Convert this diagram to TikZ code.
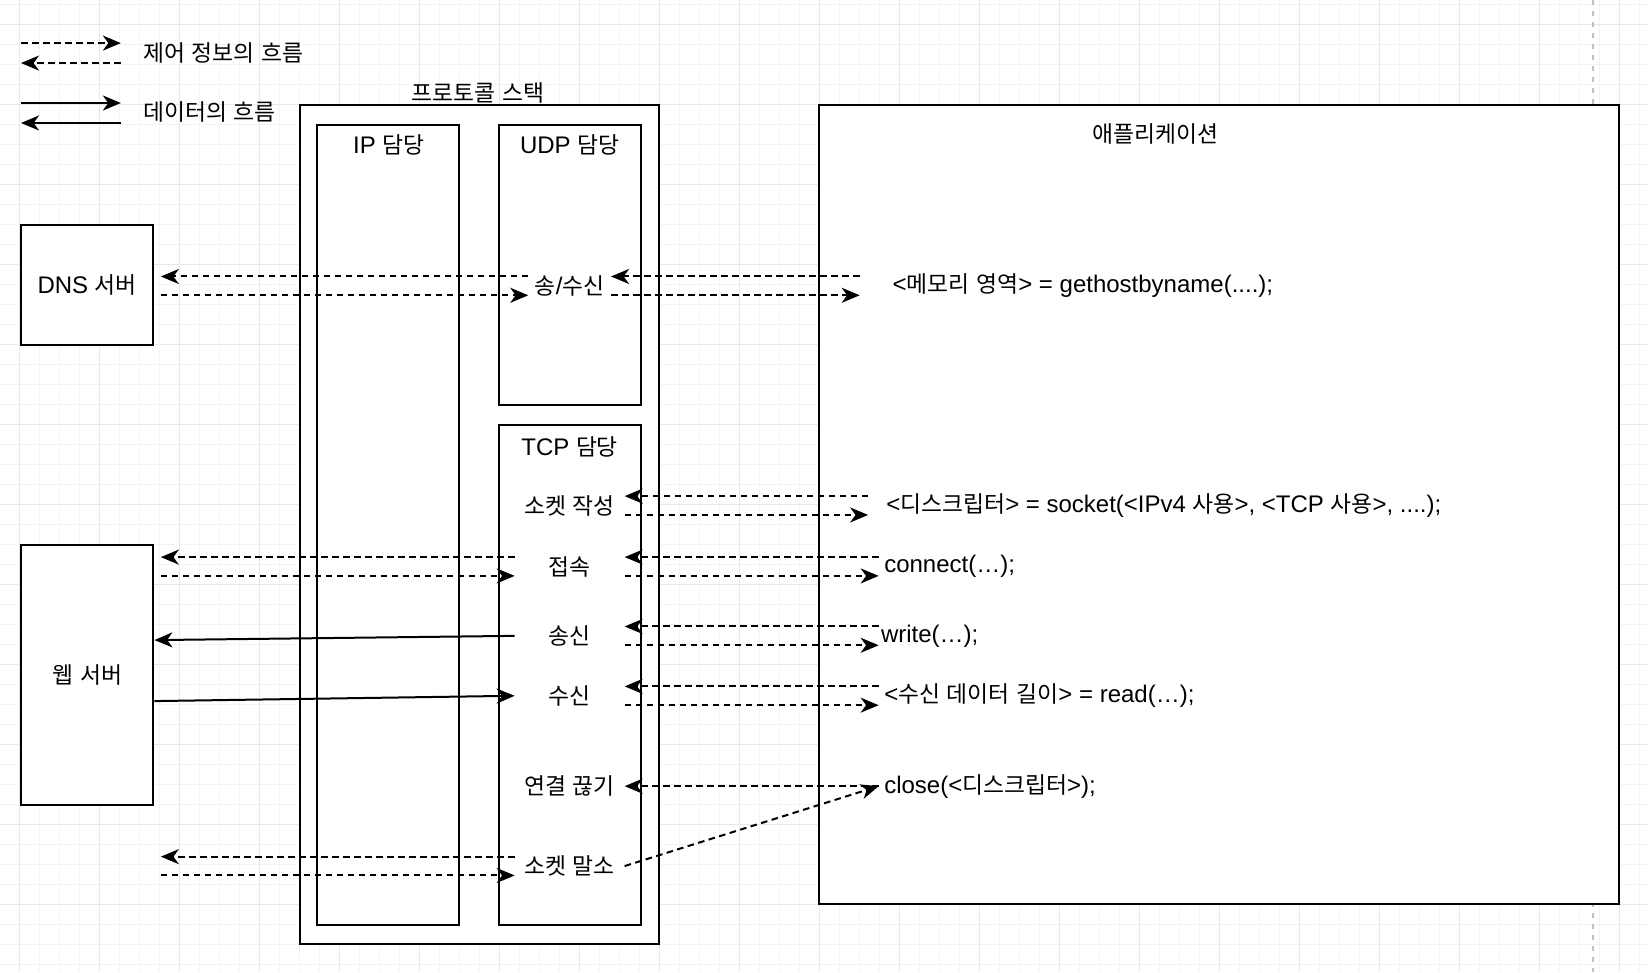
\documentclass[tikz,border=0pt]{standalone}
\usepackage{fontspec}
\setmainfont{Liberation Sans}
\newfontfamily\lafont{Liberation Sans}
\newfontfamily\krfont[Scale=0.95]{Noto Sans CJK KR}
% hangul syllables switch to the korean font
\newXeTeXintercharclass\hanclass
\newcount\hcnt
\hcnt="AC00
\loop
  \XeTeXcharclass\hcnt=\hanclass
  \advance\hcnt by 1
\ifnum\hcnt<"D7A4 \repeat
\XeTeXinterchartoks 0 \hanclass = {\krfont}
\XeTeXinterchartoks 4095 \hanclass = {\krfont}
\XeTeXinterchartoks \hanclass 0 = {\lafont}
\XeTeXinterchartoks \hanclass 4095 = {\lafont}
\XeTeXinterchartokenstate=1
\usepackage{tikz}
\usetikzlibrary{arrows.meta, positioning, calc, fit}
\definecolor{gridmin}{HTML}{F4F4F4}
\definecolor{gridmaj}{HTML}{E8E8E8}
\definecolor{pagebrk}{HTML}{C0C0C0}
\def\dy{4.7pt}

\begin{document}
\begin{tikzpicture}[x=0.5255pt, y=-0.5255pt, font=\fontsize{12}{14}\selectfont,
          box/.style={draw, line width=1pt, fill=white, inner sep=0pt},
          item/.style={minimum width=54.6pt, inner sep=0pt},
          code/.style={anchor=west, inner ysep=0pt},
          ctl/.style={line width=1pt, dash pattern=on 3.3pt off 2.2pt, -{Stealth[length=9pt, width=7.5pt, inset=2.7pt]}},
          dat/.style={line width=1pt, -{Stealth[length=9pt, width=7.5pt, inset=2.7pt]}}]
  \fill[white] (0,0) rectangle (1568,925);
  \useasboundingbox (0,0) rectangle (1568,925);
  % background grid, in full-size pixels
  \begin{scope}[x=0.5pt, y=-0.5pt, line width=0.5pt]
    \foreach \g in {19,39,...,1639} \draw[gridmin] (\g,0) -- (\g,972);
    \foreach \g in {4,24,...,964} \draw[gridmin] (0,\g) -- (1648,\g);
    \foreach \g in {19,99,...,1639} \draw[gridmaj] (\g,0) -- (\g,972);
    \foreach \g in {24,104,...,964} \draw[gridmaj] (0,\g) -- (1648,\g);
    \draw[pagebrk, line width=1pt, dash pattern=on 2.5pt off 3pt] (1593,0) -- (1593,972);
  \end{scope}
  % legend
  \coordinate (c1a) at (20,41);  \coordinate (c1b) at (115,41);
  \coordinate (c2a) at (115,60); \coordinate (c2b) at (20,60);
  \coordinate (d1a) at (20,98);  \coordinate (d1b) at (115,98);
  \coordinate (d2a) at (115,117); \coordinate (d2b) at (20,117);
  \draw[ctl] (c1a) -- (c1b);
  \draw[ctl] (c2a) -- (c2b);
  \draw[dat] (d1a) -- (d1b);
  \draw[dat] (d2a) -- (d2b);
  \node[anchor=west, inner xsep=0pt] (lgctl) at (136,50) {제어 정보의 흐름};
  \node[anchor=west, inner xsep=0pt] (lgdat) at (136,107) {데이터의 흐름};
  % boxes
  \node[box, fit={(285,100) (627,898)}] (stack) {};
  \node[box, fit={(302,119) (437,880)}] (ip) {};
  \node[box, fit={(475,119) (610,385)}] (udp) {};
  \node[box, fit={(475,404) (610,880)}] (tcp) {};
  \node[box, fit={(779,100) (1540,860)}] (app) {};
  \node[box, fit={(20,214) (146,328)}] (dns) {};
  \node[box, fit={(20,519) (146,766)}] (web) {};
  \node (dnslbl) at (83,271) {DNS 서버};
  \node (weblbl) at (83,642) {웹 서버};
  \node (stacklbl) at (455,88) {프로토콜 스택};
  \node (iplbl) at (370,138) {IP 담당};
  \node (udplbl) at (542,138) {UDP 담당};
  \node (tcplbl) at (542,425) {TCP 담당};
  \node (applbl) at (1099,127) {애플리케이션};
  % protocol functions
  \node[item, minimum width=41pt] (udpio) at (542,272) {송/수신};
  \node[item] (mk) at (542,481) {소켓 작성};
  \node[item] (conn) at (542,539) {접속};
  \node[item] (send) at (542,605) {송신};
  \node[item] (recv) at (542,662) {수신};
  \node[item] (disc) at (542,748) {연결 끊기};
  \node[item] (del) at (542,824) {소켓 말소};
  % application calls
  \node[code, inner xsep=16.3pt] (ghn) at (818,272) {<메모리 영역> = gethostbyname(....);};
  \node[code, inner xsep=8.9pt] (sock) at (826,481) {<디스크립터> = socket(<IPv4 사용>, <TCP 사용>, ....);};
  \node[code, inner xsep=2.6pt] (cnt) at (836,539) {connect(…);};
  \node[code, inner xsep=1pt] (wrt) at (836,605) {write(…);};
  \node[code, inner xsep=2.6pt] (rd) at (836,662) {<수신 데이터 길이> = read(…);};
  \node[code, inner xsep=2.6pt] (cls) at (836,748) {close(<디스크립터>);};
  % dns
  \draw[ctl] ([yshift=\dy]udpio.west) -- ([xshift=3.2pt,yshift=\dy]dns.east |- udpio.west);
  \draw[ctl] ([xshift=3.2pt,yshift=-\dy]dns.east |- udpio.west) -- ([yshift=-\dy]udpio.west);
  \draw[ctl] ([yshift=\dy]ghn.west) -- ([yshift=\dy]udpio.east);
  \draw[ctl] ([yshift=-\dy]udpio.east) -- ([yshift=-\dy]ghn.west);
  % tcp to application
  \foreach \n/\a in {mk/sock, conn/cnt, send/wrt, recv/rd} {
    \draw[ctl] ([yshift=\dy]\a.west) -- ([yshift=\dy]\n.east);
    \draw[ctl] ([yshift=-\dy]\n.east) -- ([yshift=-\dy]\a.west);}
  % tcp to web server
  \foreach \n in {conn, del} {
    \draw[ctl] ([yshift=\dy]\n.west) -- ($(\n.west -| web.east)+(3.2pt,\dy)$);
    \draw[ctl] ($(\n.west -| web.east)+(3.2pt,-\dy)$) -- ([yshift=-\dy]\n.west);}
  \draw[dat] (send.west) -- ([yshift=17.6pt]web.east);
  \draw[dat] ([yshift=-12.9pt]web.east) -- (recv.west);
  \draw[ctl] (cls.west) -- (disc.east);
  \draw[ctl] (del.east) -- (cls.west);
\end{tikzpicture}
\end{document}
